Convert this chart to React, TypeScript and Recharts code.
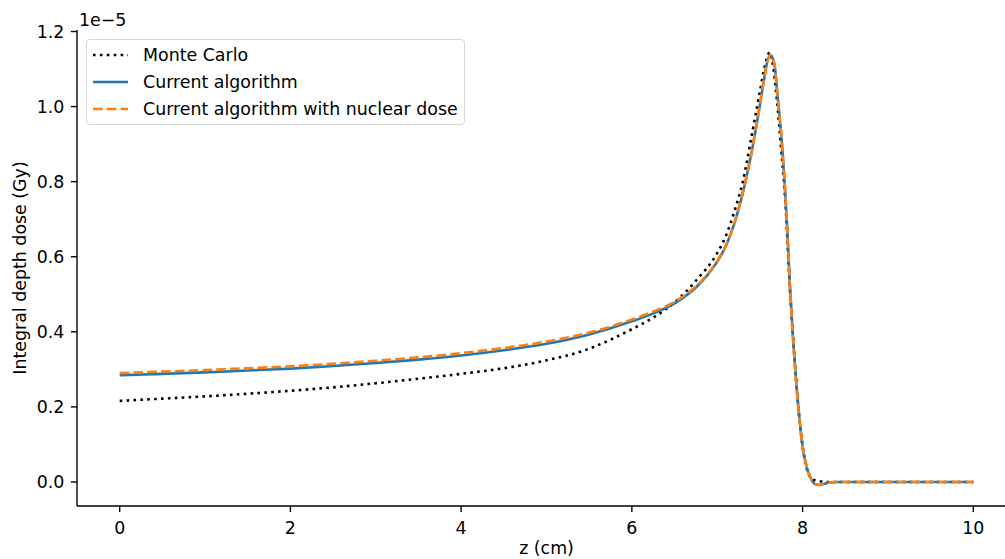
import React from 'react';
import { LineChart, Line, XAxis, YAxis } from 'recharts';

const FONT = '"DejaVu Sans", "Liberation Sans", sans-serif';

const xTicks = [0, 2, 4, 6, 8, 10];
const yTicks = [0, 0.2, 0.4, 0.6, 0.8, 1.0, 1.2];

const seriesNames = ['Monte Carlo', 'Current algorithm', 'Current algorithm with nuclear dose'];

// Monte Carlo (units of 1e-5 Gy)
const mcZ = [0, 0.5, 1, 1.5, 2, 2.5, 3, 3.5, 4, 4.5, 5, 5.5, 5.75, 6, 6.25, 6.5, 6.75, 7.0, 7.1, 7.2, 7.3, 7.4, 7.5, 7.55, 7.6, 7.61, 7.65, 7.7, 7.75, 7.8, 7.85, 7.9, 7.95, 8.0, 8.05, 8.1, 8.15, 8.2, 8.3, 9, 10];
const mcDose = [0.216, 0.222, 0.228, 0.235, 0.243, 0.252, 0.263, 0.275, 0.288, 0.303, 0.324, 0.355, 0.379, 0.407, 0.438, 0.478, 0.536, 0.61, 0.655, 0.72, 0.8, 0.918, 1.04, 1.1, 1.14, 1.145, 1.115, 1.015, 0.885, 0.74, 0.52, 0.35, 0.2, 0.095, 0.035, 0.01, 0.004, 0.002, 0, 0, 0];

// Current algorithm
const caZ = [0, 0.5, 1, 1.5, 2, 2.5, 3, 3.5, 4, 4.5, 5, 5.5, 6, 6.25, 6.5, 6.75, 6.875, 7.0, 7.1, 7.2, 7.3, 7.4, 7.45, 7.5, 7.55, 7.585, 7.625, 7.65, 7.675, 7.7, 7.715, 7.755, 7.79, 7.82, 7.85, 7.89, 7.95, 8.0, 8.05, 8.1, 8.15, 8.2, 8.25, 8.3, 8.4, 9, 10];
const caDose = [0.284, 0.288, 0.292, 0.297, 0.302, 0.309, 0.317, 0.326, 0.337, 0.351, 0.368, 0.393, 0.428, 0.449, 0.476, 0.518, 0.548, 0.587, 0.628, 0.688, 0.77, 0.875, 0.937, 1.005, 1.075, 1.118, 1.137, 1.128, 1.106, 1.045, 1.009, 0.911, 0.796, 0.676, 0.53, 0.378, 0.2, 0.095, 0.038, 0.008, -0.006, -0.008, -0.005, -0.002, 0, 0, 0];
// Current algorithm with nuclear dose (same z grid)
const nucDose = [0.29, 0.294, 0.298, 0.303, 0.308, 0.315, 0.323, 0.332, 0.343, 0.357, 0.374, 0.398, 0.433, 0.454, 0.48, 0.521, 0.55, 0.589, 0.629, 0.689, 0.771, 0.875, 0.937, 1.005, 1.075, 1.118, 1.137, 1.128, 1.106, 1.045, 1.009, 0.911, 0.796, 0.676, 0.53, 0.378, 0.2, 0.095, 0.038, 0.008, -0.006, -0.008, -0.005, -0.002, 0, 0, 0];

const toRows = (zs: number[], vs: number[]) => zs.map((z, i) => ({ z, v: vs[i] }));
const mcData = toRows(mcZ, mcDose);
const caData = toRows(caZ, caDose);
const nucData = toRows(caZ, nucDose);

const LW = 2.6;
const AX = 1.39;

const legendRows = [
  { name: seriesNames[0], color: '#000000', dash: '2.6 4.3' },
  { name: seriesNames[1], color: '#1f77b4', dash: undefined },
  { name: seriesNames[2], color: '#ff7f0e', dash: '9.6 4.2' },
];

export default function App() {
  return (
    <div style={{ position: 'absolute', left: 0, top: 0, width: 1005, height: 559, overflow: 'hidden', background: '#ffffff' }}>
      <LineChart width={1030} height={559} margin={{ top: 30, right: 14, bottom: 0, left: 0 }}>
        <XAxis
          type="number"
          dataKey="z"
          domain={[-0.5, 10.5]}
          ticks={xTicks}
          height={53}
          axisLine={{ stroke: '#000', strokeWidth: AX }}
          tickLine={{ stroke: '#000', strokeWidth: AX }}
          tickSize={6.1}
          tickMargin={9.6}
          tick={{ fill: '#000', fontSize: 17.4, fontFamily: FONT }}
          interval={0}
        />
        <XAxis
          xAxisId="top"
          orientation="top"
          type="number"
          dataKey="z"
          domain={[-0.5, 10.5]}
          height={0}
          tick={false}
          tickLine={false}
          axisLine={{ stroke: '#000', strokeWidth: AX }}
        />
        <YAxis
          type="number"
          domain={[-0.064, 1.204]}
          ticks={yTicks}
          width={77}
          axisLine={{ stroke: '#000', strokeWidth: AX }}
          tickLine={{ stroke: '#000', strokeWidth: AX }}
          tickSize={6.1}
          tickMargin={6.5}
          tick={{ fill: '#000', fontSize: 17.4, fontFamily: FONT }}
          tickFormatter={(v: number) => v.toFixed(1)}
          interval={0}
        />
        <Line data={mcData} dataKey="v" type="monotone" stroke="#000000" strokeWidth={LW} strokeDasharray="2.6 4.3" dot={false} activeDot={false} isAnimationActive={false} name={seriesNames[0]} />
        <Line data={caData} dataKey="v" type="monotone" stroke="#1f77b4" strokeWidth={LW} dot={false} activeDot={false} isAnimationActive={false} name={seriesNames[1]} />
        <Line data={nucData} dataKey="v" type="monotone" stroke="#ff7f0e" strokeWidth={LW} strokeDasharray="9.6 4.2" dot={false} activeDot={false} isAnimationActive={false} name={seriesNames[2]} />
      </LineChart>

      <svg width={1005} height={559} style={{ position: 'absolute', left: 0, top: 0, pointerEvents: 'none' }}>
        <text x={79} y={26} fontSize={17.4} fontFamily={FONT} fill="#000">1e−5</text>
        <text x={20} y={268} fontSize={17.4} fontFamily={FONT} fill="#000" textAnchor="middle" dominantBaseline="central" transform="rotate(-90 20 268)">Integral depth dose (Gy)</text>
        <text x={546.5} y={554} fontSize={17.4} fontFamily={FONT} fill="#000" textAnchor="middle">z (cm)</text>
      </svg>

      <div style={{ position: 'absolute', left: 86, top: 39, width: 379, height: 86, boxSizing: 'border-box', border: '1.4px solid #d6d6d6', borderRadius: 4, background: 'rgba(255,255,255,0.8)' }}>
        {legendRows.map((r, i) => (
          <div key={r.name} style={{ position: 'absolute', left: 0, top: 15 + i * 27 - 11, height: 22, width: 375 }}>
            <svg width={40} height={22} style={{ position: 'absolute', left: 5.5, top: 0 }}>
              <line x1={0} y1={11} x2={35} y2={11} stroke={r.color} strokeWidth={LW} strokeDasharray={r.dash} />
            </svg>
            <span style={{ position: 'absolute', left: 56, top: 0, lineHeight: '22px', fontSize: 17.4, fontFamily: FONT, color: '#000', whiteSpace: 'nowrap' }}>{r.name}</span>
          </div>
        ))}
      </div>
    </div>
  );
}
